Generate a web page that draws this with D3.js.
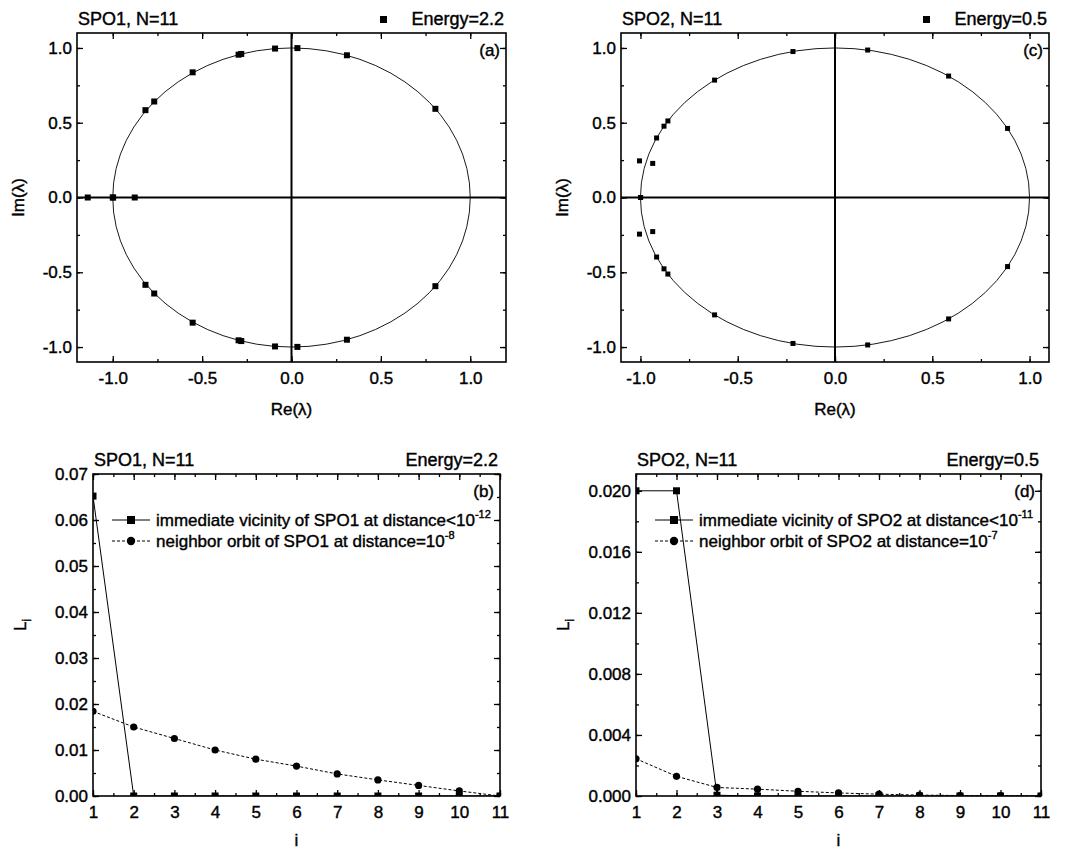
<!DOCTYPE html>
<html>
<head>
<meta charset="utf-8">
<script src="https://cdn.jsdelivr.net/npm/d3@7/dist/d3.min.js"></script>
<style>
  body { margin: 0; background: #fff; }
  svg text { font-family: Arial, "Liberation Sans", sans-serif; fill: #000; stroke: #000; stroke-width: 0.4px; }
</style>
</head>
<body>
<svg id="chart" width="1071" height="851"></svg>
<script>
// eigenvalues [Re, Im] of the monodromy matrix
const spo1Eigen = [
    [-1.14, 0], [-1.0, 0], [-0.998, 0], [-0.877, 0],
    [-0.817, 0.584], [-0.768, 0.642], [-0.553, 0.837], [-0.296, 0.955], [-0.281, 0.960],
    [-0.092, 0.996], [0.033, 0.999], [0.31, 0.951], [0.805, 0.593],
    [-0.817, -0.584], [-0.768, -0.642], [-0.553, -0.837], [-0.296, -0.955], [-0.281, -0.960],
    [-0.092, -0.996], [0.033, -0.999], [0.31, -0.951], [0.805, -0.593]
];
const spo2Eigen = [
    [-1.0, 0], [-0.999, 0],
    [-1.005, 0.245], [-0.937, 0.228], [-0.917, 0.398], [-0.879, 0.477], [-0.859, 0.512],
    [-0.619, 0.785], [-0.216, 0.976], [0.168, 0.986], [0.584, 0.812], [0.887, 0.462],
    [-1.005, -0.245], [-0.937, -0.228], [-0.917, -0.398], [-0.879, -0.477], [-0.859, -0.512],
    [-0.619, -0.785], [-0.216, -0.976], [0.168, -0.986], [0.584, -0.812], [0.887, -0.462]
];

// Lyapunov spectra L_i
const lyapIndex = [1, 2, 3, 4, 5, 6, 7, 8, 9, 10, 11];
const spo1Vicinity = [0.0652, 0, 0, 0, 0, 0, 0, 0, 0, 0, 0];
const spo1Neighbor = [0.0184, 0.0150, 0.0125, 0.0100, 0.0080, 0.0065, 0.0048, 0.0035, 0.0023, 0.0011, 0];
const spo2Vicinity = [0.0200, 0.0200, 0.00005, 0, 0, 0, 0, 0, 0, 0, 0];
const spo2Neighbor = [0.00244, 0.00129, 0.00056, 0.00045, 0.00031, 0.00020, 0.00012, 0.00006, 0.00003, 0.00002, 0];

const svg = d3.select('#chart');
const FONT = 'Arial, "Liberation Sans", sans-serif';

/**
 * Inward ticks on all four sides plus the frame.
 */
function drawFrame(g, x, y, box, opt) {
    const styleAxis = sel => {
        sel.select('.domain').remove();
        sel.attr('font-size', 17).attr('font-family', FONT);
        sel.selectAll('.tick line').attr('stroke', '#000').attr('stroke-width', 1.3);
        sel.selectAll('.tick text').attr('fill', '#000');
    };
    const sides = [
        { make: () => d3.axisBottom(x), tr: `translate(0,${box.y1})`, vals: [opt.xMajor, opt.xMinor], fmt: opt.xFmt, pad: 10 },
        { make: () => d3.axisTop(x), tr: `translate(0,${box.y0})`, vals: [opt.xMajor, opt.xMinor], fmt: null },
        { make: () => d3.axisLeft(y), tr: `translate(${box.x0},0)`, vals: [opt.yMajor, opt.yMinor], fmt: opt.yFmt, pad: 5 },
        { make: () => d3.axisRight(y), tr: `translate(${box.x1},0)`, vals: [opt.yMajor, opt.yMinor], fmt: null }
    ];
    sides.forEach(s => {
        g.append('g').attr('transform', s.tr)
            .call(s.make().tickValues(s.vals[1]).tickSize(-3).tickFormat(''))
            .call(styleAxis);
        g.append('g').attr('transform', s.tr)
            .call(s.make().tickValues(s.vals[0]).tickSize(-6).tickPadding(s.pad || 3)
                .tickFormat(s.fmt || (() => '')))
            .call(styleAxis);
    });
    g.append('rect')
        .attr('x', box.x0).attr('y', box.y0)
        .attr('width', box.x1 - box.x0).attr('height', box.y1 - box.y0)
        .attr('fill', 'none').attr('stroke', '#000').attr('stroke-width', 1.6);
}

function titles(g, box, left, right, tag, withSquare) {
    g.append('text').attr('x', box.x0 + 1).attr('y', box.y0 - 8)
        .attr('font-size', 18).text(left);
    g.append('text').attr('x', box.x1 - 2).attr('y', box.y0 - 8)
        .attr('font-size', 18).attr('text-anchor', 'end').text(right);
    if (withSquare) {
        g.append('rect').attr('x', box.x1 - 126).attr('y', box.y0 - 17)
            .attr('width', 7).attr('height', 7).attr('fill', '#000');
    }
    g.append('text').attr('x', box.x1 - 6).attr('y', box.y0 + 23)
        .attr('font-size', 17).attr('text-anchor', 'end').text(tag);
}

function yLabel(g, xPos, yPos, build) {
    const t = g.append('text')
        .attr('transform', `translate(${xPos},${yPos}) rotate(-90)`)
        .attr('text-anchor', 'middle').attr('font-size', 17);
    build(t);
}

function drawComplex(box, eigen, tag, title, energy, markSize) {
    const g = svg.append('g');
    const x = d3.scaleLinear().domain(box.xDomain).range([box.x0, box.x1]);
    const y = d3.scaleLinear().domain([-1.1, 1.1]).range([box.y1, box.y0]);

    // unit circle
    g.append('ellipse')
        .attr('cx', x(0)).attr('cy', y(0))
        .attr('rx', x(1) - x(0)).attr('ry', y(0) - y(1))
        .attr('fill', 'none').attr('stroke', '#000').attr('stroke-width', 0.9);

    // Re and Im axes through the origin
    g.append('line').attr('x1', box.x0).attr('x2', box.x1).attr('y1', y(0)).attr('y2', y(0))
        .attr('stroke', '#000').attr('stroke-width', 2);
    g.append('line').attr('x1', x(0)).attr('x2', x(0)).attr('y1', box.y0).attr('y2', box.y1)
        .attr('stroke', '#000').attr('stroke-width', 2);

    g.selectAll('.eig').data(eigen).join('rect')
        .attr('class', 'eig')
        .attr('x', d => x(d[0]) - markSize / 2)
        .attr('y', d => y(d[1]) - markSize / 2)
        .attr('width', markSize).attr('height', markSize)
        .attr('fill', '#000');

    drawFrame(g, x, y, box, {
        xMajor: [-1, -0.5, 0, 0.5, 1],
        xMinor: [-1, -0.75, -0.5, -0.25, 0, 0.25, 0.5, 0.75, 1],
        yMajor: [-1, -0.5, 0, 0.5, 1],
        yMinor: [-1, -0.75, -0.5, -0.25, 0, 0.25, 0.5, 0.75, 1],
        xFmt: d => d.toFixed(1),
        yFmt: d => d.toFixed(1)
    });

    titles(g, box, title, energy, tag, true);

    g.append('text').attr('x', (box.x0 + box.x1) / 2).attr('y', box.y1 + 53)
        .attr('text-anchor', 'middle').attr('font-size', 17).text('Re(λ)');
    yLabel(g, box.x0 - 53, (box.y0 + box.y1) / 2, t => t.text('Im(λ)'));
}

function drawLyap(box, yMax, series, opt) {
    const g = svg.append('g');
    const x = d3.scaleLinear().domain([1, 11]).range([box.x0, box.x1]);
    const y = d3.scaleLinear().domain([0, yMax]).range([box.y1, box.y0]);

    const clipId = 'clip-' + opt.tag.replace(/\W/g, '');
    g.append('clipPath').attr('id', clipId).append('rect')
        .attr('x', box.x0).attr('y', box.y0)
        .attr('width', box.x1 - box.x0).attr('height', box.y1 - box.y0);
    const plot = g.append('g').attr('clip-path', `url(#${clipId})`);

    const line = d3.line().x((d, i) => x(lyapIndex[i])).y(d => y(d));

    series.forEach(s => {
        plot.append('path').datum(s.values)
            .attr('d', line).attr('fill', 'none').attr('stroke', '#000')
            .attr('stroke-width', 1).attr('stroke-dasharray', s.dashed ? '3,2' : null);
        if (s.marker === 'square') {
            plot.selectAll(null).data(s.values).join('rect')
                .attr('x', (d, i) => x(lyapIndex[i]) - 3.5)
                .attr('y', d => y(d) - 3.5)
                .attr('width', 7).attr('height', 7).attr('fill', '#000');
        } else {
            plot.selectAll(null).data(s.values).join('circle')
                .attr('cx', (d, i) => x(lyapIndex[i]))
                .attr('cy', d => y(d))
                .attr('r', 3.6).attr('fill', '#000');
        }
    });

    drawFrame(g, x, y, box, {
        xMajor: lyapIndex,
        xMinor: d3.range(1, 11.01, 0.5),
        yMajor: opt.yMajor,
        yMinor: opt.yMinor,
        xFmt: d => String(d),
        yFmt: d => d.toFixed(opt.digits)
    });

    titles(g, box, opt.title, opt.energy, opt.tag, false);

    // legend
    series.forEach((s, k) => {
        const ly = box.y0 + 46 + k * 21;
        const lx = box.x0 + 19;
        g.append('line').attr('x1', lx).attr('x2', lx + 38).attr('y1', ly).attr('y2', ly)
            .attr('stroke', '#000').attr('stroke-width', 1)
            .attr('stroke-dasharray', s.dashed ? '3,2' : null);
        if (s.marker === 'square') {
            g.append('rect').attr('x', lx + 15).attr('y', ly - 4).attr('width', 8).attr('height', 8)
                .attr('fill', '#000');
        } else {
            g.append('circle').attr('cx', lx + 19).attr('cy', ly).attr('r', 4.2).attr('fill', '#000');
        }
        const t = g.append('text').attr('x', lx + 44).attr('y', ly + 6).attr('font-size', 17);
        t.append('tspan').text(s.label);
        t.append('tspan').attr('font-size', 11).attr('dy', -8).text(s.exp);
    });

    g.append('text').attr('x', (box.x0 + box.x1) / 2).attr('y', box.y1 + 50)
        .attr('text-anchor', 'middle').attr('font-size', 17).text('i');
    yLabel(g, box.x0 - 67, (box.y0 + box.y1) / 2 - 10, t => {
        t.append('tspan').text('L');
        t.append('tspan').attr('font-size', 12).attr('dy', 5).text('i');
    });
}

drawComplex({ x0: 77, x1: 506, y0: 33, y1: 362, xDomain: [-1.2, 1.2] },
    spo1Eigen, '(a)', 'SPO1, N=11', 'Energy=2.2', 6);
drawComplex({ x0: 621, x1: 1049, y0: 33, y1: 362, xDomain: [-1.1, 1.1] },
    spo2Eigen, '(c)', 'SPO2, N=11', 'Energy=0.5', 5);

drawLyap({ x0: 93, x1: 500, y0: 474, y1: 796 }, 0.07, [
    { values: spo1Vicinity, marker: 'square', dashed: false, label: 'immediate vicinity of SPO1 at distance<10', exp: '-12' },
    { values: spo1Neighbor, marker: 'circle', dashed: true, label: 'neighbor orbit of SPO1 at distance=10', exp: '-8' }
], {
    tag: '(b)', title: 'SPO1, N=11', energy: 'Energy=2.2', digits: 2,
    yMajor: [0, 0.01, 0.02, 0.03, 0.04, 0.05, 0.06, 0.07],
    yMinor: d3.range(0, 0.0701, 0.005)
});

drawLyap({ x0: 636, x1: 1041, y0: 474, y1: 796 }, 0.0211, [
    { values: spo2Vicinity, marker: 'square', dashed: false, label: 'immediate vicinity of SPO2 at distance<10', exp: '-11' },
    { values: spo2Neighbor, marker: 'circle', dashed: true, label: 'neighbor orbit of SPO2 at distance=10', exp: '-7' }
], {
    tag: '(d)', title: 'SPO2, N=11', energy: 'Energy=0.5', digits: 3,
    yMajor: [0, 0.004, 0.008, 0.012, 0.016, 0.020],
    yMinor: d3.range(0, 0.0211, 0.002)
});
</script>
</body>
</html>
